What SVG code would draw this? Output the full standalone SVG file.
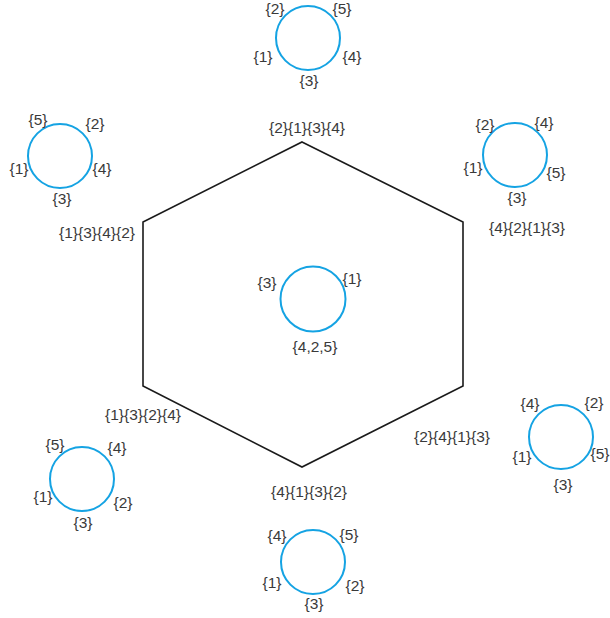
<svg xmlns="http://www.w3.org/2000/svg" width="610" height="618" viewBox="0 0 610 618">
<style>
.c{fill:none;stroke:#15a3e3;stroke-width:2}
.h{fill:none;stroke:#1a1a1a;stroke-width:1.6}
text{font-family:"Liberation Sans",Arial,sans-serif;font-size:15.5px;fill:#3a3a3a;text-anchor:middle}
</style>
<rect width="610" height="618" fill="#fff"/>
<g id="hexagon">
<polygon class="h" points="302,142 463,222 463,386 302,467 143,386 143,222"/>
<text x="307" y="133">{2}{1}{3}{4}</text>
<text x="97" y="238">{1}{3}{4}{2}</text>
<text x="527" y="233">{4}{2}{1}{3}</text>
<text x="143" y="420">{1}{3}{2}{4}</text>
<text x="452" y="442">{2}{4}{1}{3}</text>
<text x="309" y="497">{4}{1}{3}{2}</text>
</g>
<g id="circle-top">
<circle class="c" cx="308" cy="38" r="32"/>
<text x="275" y="14">{2}</text>
<text x="342" y="14">{5}</text>
<text x="263" y="62">{1}</text>
<text x="352" y="62">{4}</text>
<text x="309" y="86">{3}</text>
</g>
<g id="circle-top-left">
<circle class="c" cx="60" cy="156" r="32"/>
<text x="38" y="125">{5}</text>
<text x="95" y="129">{2}</text>
<text x="19" y="174">{1}</text>
<text x="102" y="174">{4}</text>
<text x="62" y="204">{3}</text>
</g>
<g id="circle-top-right">
<circle class="c" cx="515" cy="155" r="32"/>
<text x="485" y="130">{2}</text>
<text x="544" y="128">{4}</text>
<text x="473" y="173">{1}</text>
<text x="556" y="178">{5}</text>
<text x="517" y="203">{3}</text>
</g>
<g id="circle-center">
<circle class="c" cx="313" cy="299" r="32.5"/>
<text x="267" y="288">{3}</text>
<text x="352" y="284">{1}</text>
<text x="315" y="352">{4,2,5}</text>
</g>
<g id="circle-bottom-left">
<circle class="c" cx="82" cy="479" r="32"/>
<text x="55" y="450">{5}</text>
<text x="117" y="453">{4}</text>
<text x="43" y="502">{1}</text>
<text x="123" y="508">{2}</text>
<text x="83" y="528">{3}</text>
</g>
<g id="circle-bottom-right">
<circle class="c" cx="561" cy="437" r="32"/>
<text x="530" y="409">{4}</text>
<text x="594" y="408">{2}</text>
<text x="522" y="462">{1}</text>
<text x="600" y="459">{5}</text>
<text x="563" y="490">{3}</text>
</g>
<g id="circle-bottom">
<circle class="c" cx="313" cy="562" r="32"/>
<text x="277" y="541">{4}</text>
<text x="349" y="540">{5}</text>
<text x="272" y="588">{1}</text>
<text x="355" y="591">{2}</text>
<text x="314" y="609">{3}</text>
</g>
</svg>
